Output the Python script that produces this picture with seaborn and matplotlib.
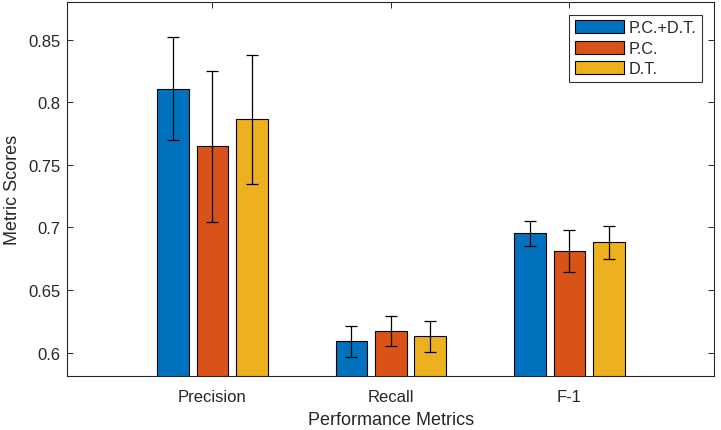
import matplotlib
matplotlib.use("Agg")
import matplotlib.pyplot as plt
import seaborn as sns
import pandas as pd
import numpy as np
from matplotlib.ticker import FuncFormatter

categories = ["Precision", "Recall", "F-1"]
methods = ["P.C.+D.T.", "P.C.", "D.T."]
pc_dt = [0.8107, 0.6088, 0.6951]
pc = [0.7646, 0.6173, 0.6812]
dt = [0.7862, 0.6128, 0.6879]
pc_dt_err = [0.0412, 0.0123, 0.0099]
pc_err = [0.0600, 0.0119, 0.0167]
dt_err = [0.0516, 0.0124, 0.0130]

colors = ["#0072BD", "#D95319", "#EDB120"]

rows = []
for m, vals, errs in zip(methods, [pc_dt, pc, dt], [pc_dt_err, pc_err, dt_err]):
    for c, v, e in zip(categories, vals, errs):
        rows.append({"Metric": c, "Method": m, "Score": v, "Err": e})
df = pd.DataFrame(rows)

sns.set_theme(style="white")
plt.rcParams['font.family'] = ['Liberation Sans', 'DejaVu Sans']

fig = plt.figure(figsize=(7.21, 4.31), dpi=100)
ax = fig.add_axes([0.0934, 0.1246, 0.8973, 0.8677])

sns.barplot(data=df, x="Metric", y="Score", hue="Method", order=categories,
            hue_order=methods, palette=colors, width=0.663, gap=0.2,
            errorbar=None, edgecolor="black", linewidth=0.8, saturation=1,
            ax=ax)

for i, m in enumerate(methods):
    cont = ax.containers[i]
    sub = df[df.Method == m].set_index("Metric").loc[categories]
    xs = [p.get_x() + p.get_width() / 2 for p in cont.patches]
    ax.errorbar(xs, sub["Score"].values, yerr=sub["Err"].values, fmt="none",
                ecolor="black", elinewidth=0.9, capsize=4, capthick=0.9, zorder=5)

ax.set_xlim(-0.812, 2.812)
ax.set_ylim(0.581, 0.8797)
ax.set_yticks([0.6, 0.65, 0.7, 0.75, 0.8, 0.85])
ax.yaxis.set_major_formatter(FuncFormatter(lambda v, p: f"{v:g}"))

ax.set_xlabel("Performance Metrics", fontsize=13, color="#262626", labelpad=5)
ax.set_ylabel("Metric Scores", fontsize=13, color="#262626", labelpad=5)
ax.tick_params(axis="both", direction="in", length=4.5, width=0.7, colors="#262626",
               labelsize=12, top=True, right=True, bottom=True, left=True, pad=5)
ax.tick_params(axis="x", pad=9)
for s in ax.spines.values():
    s.set_color("#262626")
    s.set_linewidth(0.8)
    s.set_visible(True)

leg = ax.legend(loc="upper right", fontsize=11.7, frameon=True, fancybox=False,
                edgecolor="black", handlelength=3.05, handleheight=0.86,
                borderaxespad=0.75, labelspacing=0.33, handletextpad=0.25,
                borderpad=0.35, title=None)
leg.get_frame().set_linewidth(0.8)

fig.savefig("out.png", dpi=100)
